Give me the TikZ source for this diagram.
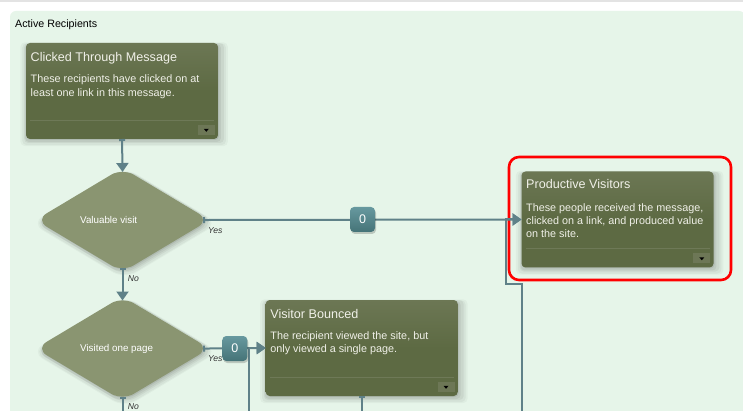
\documentclass[tikz,border=0pt]{standalone}
\usepackage{fontspec}
\setmainfont{Liberation Sans}
\usetikzlibrary{shapes.geometric, positioning, arrows.meta, shadows, calc}

\definecolor{panelgreen}{HTML}{E6F5E9}
\definecolor{cardolive}{HTML}{5D6A43}
\definecolor{cardtop}{HTML}{6C7754}
\definecolor{decisionolive}{HTML}{8A9571}
\definecolor{linkteal}{HTML}{5F8188}
\definecolor{badgetop}{HTML}{67999F}
\definecolor{badgebottom}{HTML}{457377}
\definecolor{cardtext}{HTML}{F0F0E8}
\definecolor{footline}{HTML}{6E7957}
\definecolor{footbutton}{HTML}{6D7756}

\tikzset{
  softshadow/.style={
    general shadow={fill=black, opacity=.03, shadow xshift=2pt, shadow yshift=-3pt, shadow scale=1.08},
    general shadow={fill=black, opacity=.04, shadow xshift=2pt, shadow yshift=-3pt, shadow scale=1.06},
    general shadow={fill=black, opacity=.05, shadow xshift=2pt, shadow yshift=-2pt, shadow scale=1.04},
    general shadow={fill=black, opacity=.06, shadow xshift=1pt, shadow yshift=-2pt, shadow scale=1.02},
    general shadow={fill=black, opacity=.08, shadow xshift=1pt, shadow yshift=-1pt}},
  card/.style={rectangle, rounded corners=4pt, minimum width=192pt, minimum height=96pt,
    inner sep=0pt, outer sep=0pt, top color=cardtop, bottom color=cardolive, middle color=cardolive, softshadow},
  cardtitle/.style={anchor=base west, inner sep=0pt, text=cardtext, font=\fontsize{12.6}{15}\selectfont},
  cardbody/.style={anchor=north west, inner sep=0pt, align=left, text=cardtext, font=\fontsize{10.8}{13.3}\selectfont},
  footbtn/.style={rectangle, minimum width=17pt, minimum height=10pt, inner sep=0pt, fill=footbutton},
  decision/.style={diamond, minimum width=174pt, minimum height=104pt, inner sep=0pt, outer sep=0pt,
    rounded corners=13pt, fill=decisionolive, softshadow},
  decisionlabel/.style={anchor=base west, inner sep=0pt, text=white, font=\fontsize{9.8}{12}\selectfont},
  answer/.style={anchor=base west, inner sep=0pt, text=black!80, font=\fontsize{8.6}{10}\selectfont\itshape},
  countbadge/.style={rectangle, rounded corners=4pt, minimum size=25pt, inner sep=0pt, top color=badgetop,
    bottom color=badgebottom, text=white, font=\fontsize{12.5}{14}\selectfont,
    general shadow={fill=black, opacity=.18, shadow xshift=1pt, shadow yshift=-2pt}},
  link/.style={draw=linkteal, line width=2pt, {Rectangle[length=2pt,width=6pt]}-{Triangle[length=9pt,width=12pt]}},
  focusring/.style={draw=red, line width=2.6pt, rounded corners=10pt, minimum width=222pt, minimum height=123pt}
}

% separator and fold button at the foot of a card
\newcommand{\cardfoot}[1]{%
  \draw[footline, line width=0.8pt] ([shift={(4,-19)}]#1.south west) -- ([shift={(-4,-19)}]#1.south east);
  \node[footbtn, anchor=south east] (#1btn) at ([shift={(-3,-4)}]#1.south east) {};
  \fill[black] ([shift={(-2.5,-1)}]#1btn.center) -- ++(5,0) -- ++(-2.5,3) -- cycle;
}

\begin{document}
\begin{tikzpicture}[x=1pt, y=-1pt]
\clip (0,0) rectangle (743,411);
\fill[white] (0,0) rectangle (743,411);
\fill[black!11] (0,0) rectangle (743,2);
\fill[panelgreen] (10,11) [rounded corners=6pt] rectangle (745,470);
\node[anchor=base west, inner sep=0pt, font=\fontsize{10.7}{12}\selectfont] (paneltitle) at (15,27.3) {Active Recipients};

% cards
\node[card] (clicked) at (122,91) {};
\node[cardtitle] (clickedtitle) at ([shift={(4.5,18.5)}]clicked.north west) {Clicked Through Message};
\node[cardbody] (clickedbody) at ([shift={(4.5,31.8)}]clicked.north west) {These recipients have clicked on at\\least one link in this message.};
\cardfoot{clicked}

\node[card] (productive) at (617.5,219.5) {};
\node[cardtitle] (productivetitle) at ([shift={(4.5,17.5)}]productive.north west) {Productive Visitors};
\node[cardbody] (productivebody) at ([shift={(4.5,31.8)}]productive.north west) {These people received the message,\\clicked on a link, and produced value\\on the site.};
\cardfoot{productive}
\node[focusring] (focus) at (620,218.5) {};

\node[card] (bounced) at (361.7,348) {};
\node[cardtitle] (bouncedtitle) at ([shift={(4.5,18.3)}]bounced.north west) {Visitor Bounced};
\node[cardbody] (bouncedbody) at ([shift={(4.5,31.6)}]bounced.north west) {The recipient viewed the site, but\\only viewed a single page.};
\cardfoot{bounced}

% decisions
\node[decision] (valuable) at (122.5,220) {};
\node[decisionlabel] at ([shift={(44.5,3.8)}]valuable.west) {Valuable visit};
\node[decision] (visited) at (122.5,348.5) {};
\node[decisionlabel] at ([shift={(44.5,3.4)}]visited.west) {Visited one page};

% connectors
\coordinate (visitedexit) at (122.5,430);
\coordinate (bouncedloop) at (249,430);
\coordinate (bouncedexit) at (361.7,430);
\coordinate (productiveloop) at (522,430);
\coordinate (productivebend) at (505.5,283.5);

\draw[link, shorten >=-4pt] (clicked.south) -- (valuable.north);
\draw[link, shorten <=-4pt, shorten >=-4pt] (valuable.south) -- (visited.north);
\draw[link, shorten <=-6.5pt] (valuable.east) -- (productive.west);
\draw[link, shorten <=-6.5pt] (visited.east) -- (bounced.west);
\draw[link, shorten <=-4pt] (visited.south) -- (visitedexit);
\draw[link] (bouncedloop) |- (bounced.west);
\draw[link] (bounced.south) -- (bouncedexit);
\draw[link] (productiveloop) |- (productivebend) |- (productive.west);

% counts and answers
\node[countbadge] (valuablecount) at (362.5,219.5) {0};
\node[countbadge] (visitedcount) at (234.8,348.5) {0};
\node[answer] at ([shift={(-1.5,13.3)}]valuable.east) {Yes};
\node[answer] at ([shift={(5.2,9)}]valuable.south) {No};
\node[answer] at ([shift={(-1.5,13.2)}]visited.east) {Yes};
\node[answer] at ([shift={(5.2,8.8)}]visited.south) {No};
\end{tikzpicture}
\end{document}
